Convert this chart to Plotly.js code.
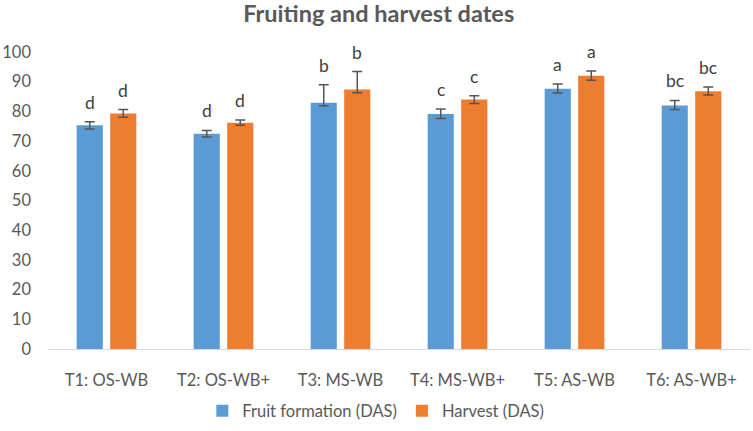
<!DOCTYPE html>
<html>
<head>
<meta charset="utf-8">
<script src="https://cdn.plot.ly/plotly-3.0.1.min.js"></script>
<style>
  html, body { margin: 0; padding: 0; background: #fff; }
  #chart { width: 753px; height: 431px; }
</style>
</head>
<body>
<div id="chart"></div>
<script>
// Treatments
const categories = ["T1: OS-WB", "T2: OS-WB+", "T3: MS-WB", "T4: MS-WB+", "T5: AS-WB", "T6: AS-WB+"];

// Days after sowing (DAS)
const fruitFormation = [75.3, 72.5, 82.9, 79.1, 87.6, 82.0];
const fruitErrPlus   = [1.2, 1.1, 6.1, 1.7, 1.6, 1.7];
const fruitErrMinus  = [1.2, 1.1, 1.0, 1.5, 1.4, 1.4];
const fruitLetters   = ["d", "d", "b", "c", "a", "bc"];

const harvest        = [79.3, 76.2, 87.4, 84.0, 92.0, 86.8];
const harvestErrPlus = [1.3, 0.9, 6.0, 1.3, 1.6, 1.4];
const harvestErrMinus= [1.3, 0.9, 1.1, 1.3, 1.5, 1.3];
const harvestLetters = ["d", "d", "b", "c", "a", "bc"];

const FONT = "Lato, 'Open Sans', sans-serif";
const GREY = "#595959";
const ERR = "#555555";

const traces = [
  {
    type: "bar", name: "Fruit formation (DAS)", x: categories, y: fruitFormation,
    marker: { color: "#5B9BD5" },
    error_y: { type: "data", symmetric: false, array: fruitErrPlus, arrayminus: fruitErrMinus,
               color: ERR, thickness: 1.5, width: 5 },
    hoverinfo: "skip"
  },
  {
    type: "bar", name: "Harvest (DAS)", x: categories, y: harvest,
    marker: { color: "#ED7D31" },
    error_y: { type: "data", symmetric: false, array: harvestErrPlus, arrayminus: harvestErrMinus,
               color: ERR, thickness: 1.5, width: 5 },
    hoverinfo: "skip"
  }
];

// Significance letters sit above each error bar
const letterFont = { family: FONT, size: 17.5, color: "#404040" };
const annotations = [];
categories.forEach((c, i) => {
  annotations.push({
    x: c, y: fruitFormation[i] + fruitErrPlus[i], xref: "x", yref: "y",
    text: fruitLetters[i], showarrow: false, xanchor: "center", yanchor: "bottom",
    xshift: -16.75, yshift: 7, font: letterFont
  });
  annotations.push({
    x: c, y: harvest[i] + harvestErrPlus[i], xref: "x", yref: "y",
    text: harvestLetters[i], showarrow: false, xanchor: "center", yanchor: "bottom",
    xshift: 16.75, yshift: 7, font: letterFont
  });
});

const layout = {
  width: 753, height: 431,
  margin: { l: 48, r: 3, t: 52, b: 80 },
  paper_bgcolor: "#ffffff", plot_bgcolor: "#ffffff",
  font: { family: FONT, color: GREY, size: 16.5 },
  title: {
    text: "<b>Fruiting and harvest dates</b>",
    font: { family: FONT, size: 23.5, color: GREY },
    x: 0.503, xanchor: "center", y: 0.968, yanchor: "middle"
  },
  barmode: "group",
  bargap: 0.427,
  bargroupgap: 0.22,
  xaxis: {
    type: "category", automargin: false,
    showline: true, linecolor: "#d9d9d9", linewidth: 1,
    showgrid: false, zeroline: false, ticks: "",
    tickfont: { family: FONT, size: 16.5, color: GREY },
    ticklabelstandoff: 16
  },
  yaxis: {
    range: [0, 100], dtick: 10, tick0: 0, automargin: false,
    showline: false, showgrid: false, zeroline: false, ticks: "",
    tickfont: { family: FONT, size: 16.5, color: GREY },
    ticklabelstandoff: 16
  },
  showlegend: true,
  legend: {
    orientation: "h", x: 0.467, xanchor: "center", y: -0.15, yanchor: "top",
    font: { family: FONT, size: 16.5, color: GREY },
    itemwidth: 30, traceorder: "normal"
  },
  annotations: annotations
};

Plotly.newPlot("chart", traces, layout, { displayModeBar: false, staticPlot: true });
</script>
</body>
</html>
